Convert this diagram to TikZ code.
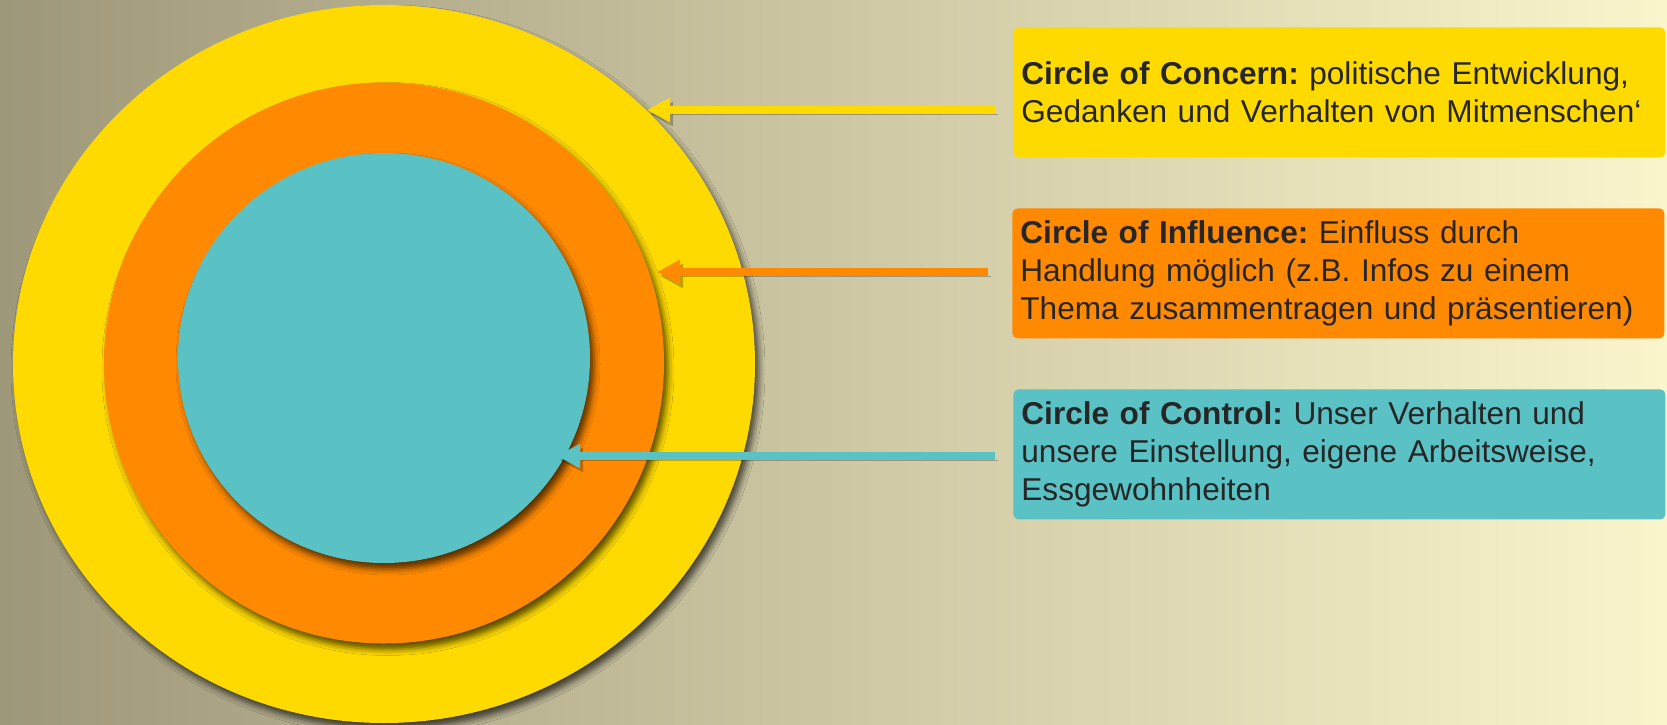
\documentclass[tikz,border=0pt]{standalone}
\usepackage{fontspec}
\setmainfont{Liberation Sans}
\usepackage{tikz}
\usetikzlibrary{shapes.geometric,arrows.meta,shadows.blur}
\definecolor{concern}{RGB}{255,218,0}
\definecolor{influence}{RGB}{255,137,0}
\definecolor{control}{RGB}{90,193,196}
\definecolor{bgleft}{RGB}{158,152,122}
\definecolor{bgright}{RGB}{251,245,204}
\definecolor{ink}{RGB}{38,38,38}
\frenchspacing

\begin{document}
\begin{tikzpicture}[x=.5pt,y=-.5pt]
	\tikzstyle{ring}=[ellipse,inner sep=0pt,outer sep=0pt,blur shadow={shadow xshift=2pt,shadow yshift=-3pt,shadow blur radius=3pt,shadow opacity=65}]
	\tikzstyle{infobox}=[rectangle,rounded corners=2.5pt,anchor=north west,text width=318pt,inner xsep=4pt,inner ysep=0pt,minimum height=65pt,align=left,text=ink,font=\fontsize{15.8}{19}\selectfont]
	\tikzstyle{pointer}=[line width=4pt,-{Triangle[length=11.5pt,width=11.5pt]},preaction={draw=black,opacity=.25,transform canvas={xshift=1.5pt,yshift=-2pt}}]
	
	% background
	\shade [left color=bgleft,right color=bgright] (0,0) rectangle (1667,724);
	\useasboundingbox (0,0) rectangle (1667,724);
	
	% the three circles
	\node [ring,fill=concern,minimum width=371pt,minimum height=359pt] (concern) at (384,364) {};
	\node [ring,fill=influence,minimum width=280pt,minimum height=280.5pt] (influence) at (384,363) {};
	\node [ring,fill=control,minimum width=206pt,minimum height=205pt] (control) at (384,358) {};
	
	% boxes on the right
	\node [infobox,fill=concern] (concernbox) at (1013,27) {\textbf{Circle of Concern:} politische Entwicklung,\\ Gedanken und Verhalten von Mitmenschen‘};
	\node [infobox,fill=influence] (influencebox) at (1012,208) {\textbf{Circle of Influence:} Einfluss durch\\ Handlung möglich (z.B. Infos zu einem\\ Thema zusammentragen und präsentieren)};
	\node [infobox,fill=control] (controlbox) at (1013,389) {\textbf{Circle of Control:} Unser Verhalten und\\ unsere Einstellung, eigene Arbeitsweise,\\ Essgewohnheiten};
	
	% arrows
	\coordinate (concerntip) at (647,110);
	\coordinate (influencetip) at (657,272);
	\coordinate (controltip) at (557,456);
	\draw [pointer,concern] ([xshift=-9pt]concernbox.west |- concerntip) -- (concerntip);
	\draw [pointer,influence] ([xshift=-12pt]influencebox.west |- influencetip) -- (influencetip);
	\draw [pointer,control] ([xshift=-9pt]controlbox.west |- controltip) -- (controltip);
\end{tikzpicture}
\end{document}
